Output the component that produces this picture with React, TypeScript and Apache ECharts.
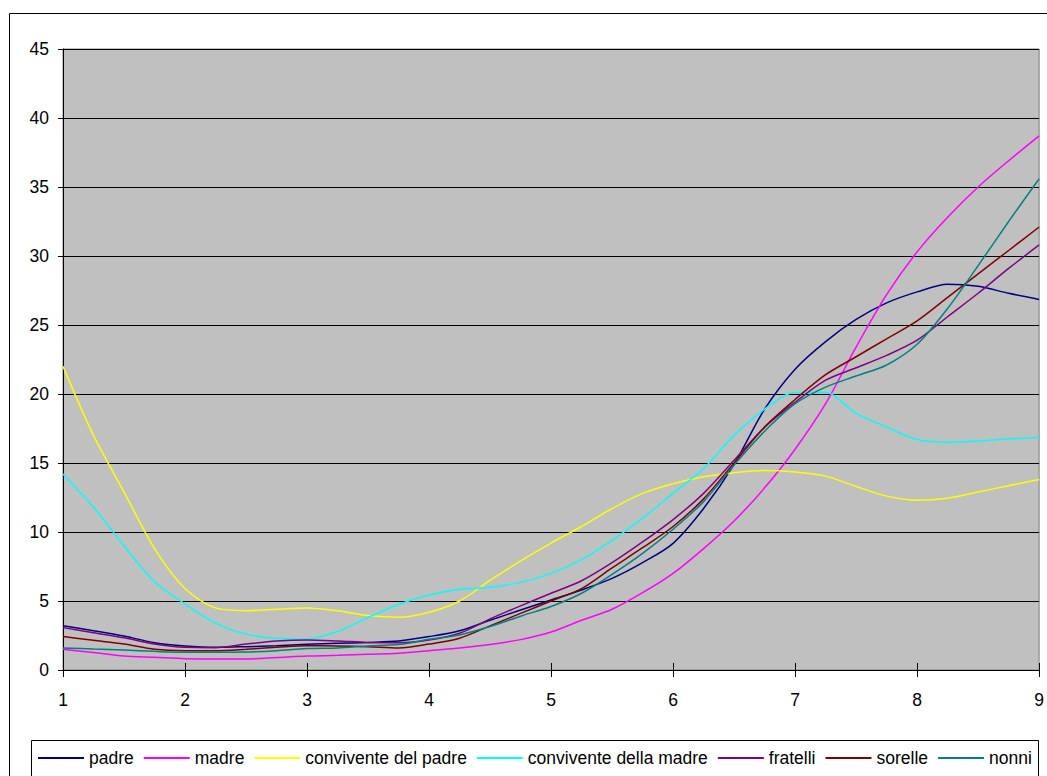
import React, { useEffect, useRef } from "react";
import * as echarts from "echarts";

const xValues = [1, 1.25, 1.5, 1.75, 2, 2.25, 2.5, 2.75, 3, 3.25, 3.5, 3.75, 4, 4.25, 4.5, 4.75, 5, 5.25, 5.5, 5.75, 6, 6.25, 6.5, 6.75, 7, 7.25, 7.5, 7.75, 8, 8.25, 8.5, 8.75, 9];

const padre = [3.21, 2.85, 2.46, 1.98, 1.74, 1.64, 1.69, 1.76, 1.86, 1.93, 2.0, 2.1, 2.42, 2.85, 3.6, 4.35, 5.07, 5.8, 6.64, 7.78, 9.18, 11.7, 14.9, 18.9, 21.8, 23.8, 25.4, 26.6, 27.4, 27.95, 27.8, 27.3, 26.85];
const madre = [1.5, 1.26, 1.01, 0.92, 0.82, 0.8, 0.8, 0.9, 1.01, 1.06, 1.14, 1.22, 1.4, 1.6, 1.85, 2.2, 2.75, 3.6, 4.4, 5.6, 7.0, 8.8, 10.8, 13.2, 16.0, 19.3, 23.4, 27.2, 30.3, 32.8, 35.0, 36.9, 38.7];
const conviventePadre = [22.0, 17.0, 12.9, 8.8, 5.9, 4.5, 4.3, 4.4, 4.5, 4.3, 3.95, 3.82, 4.18, 5.0, 6.5, 7.9, 9.2, 10.4, 11.7, 12.8, 13.5, 14.0, 14.3, 14.45, 14.35, 14.05, 13.3, 12.6, 12.3, 12.45, 12.9, 13.35, 13.8];
const conviventeMadre = [14.2, 11.8, 9.0, 6.4, 4.78, 3.4, 2.6, 2.3, 2.25, 2.8, 3.8, 4.75, 5.43, 5.85, 6.0, 6.35, 7.0, 8.0, 9.4, 11.0, 12.8, 14.6, 17.0, 18.9, 20.1, 20.1, 18.6, 17.6, 16.7, 16.5, 16.6, 16.75, 16.85];
const fratelli = [3.07, 2.7, 2.34, 1.88, 1.64, 1.62, 1.88, 2.1, 2.17, 2.1, 2.0, 1.98, 2.17, 2.66, 3.7, 4.65, 5.56, 6.47, 7.78, 9.28, 10.9, 12.8, 15.2, 17.6, 19.4, 21.0, 21.9, 22.8, 23.9, 25.6, 27.3, 29.1, 30.8];
const sorelle = [2.42, 2.15, 1.88, 1.5, 1.4, 1.4, 1.5, 1.64, 1.76, 1.74, 1.69, 1.6, 1.88, 2.3, 3.2, 4.1, 5.0, 5.9, 7.4, 8.86, 10.4, 12.4, 15.0, 17.6, 19.6, 21.4, 22.7, 24.0, 25.3, 27.0, 28.7, 30.4, 32.1];
const nonni = [1.6, 1.52, 1.45, 1.35, 1.28, 1.28, 1.3, 1.4, 1.55, 1.6, 1.74, 1.84, 2.22, 2.54, 3.15, 3.9, 4.6, 5.56, 6.93, 8.45, 10.2, 12.2, 14.86, 17.3, 19.3, 20.5, 21.3, 22.1, 23.6, 26.2, 29.3, 32.5, 35.6];

const seriesNames = ["padre", "madre", "convivente del padre", "convivente della madre", "fratelli", "sorelle", "nonni"];
const seriesValues = [padre, madre, conviventePadre, conviventeMadre, fratelli, sorelle, nonni];
const seriesColors = ["#000080", "#FF00FF", "#FFFF00", "#00FFFF", "#800080", "#800000", "#008080"];

const FONT = "'Liberation Sans', Arial, sans-serif";
const FS = 17.5;

export default function App() {
  const ref = useRef<HTMLDivElement>(null);
  useEffect(() => {
    document.body.style.margin = "0";
    const chart = echarts.init(ref.current!, null, { renderer: "svg" });
    const option = {
      animation: false,
      backgroundColor: "#ffffff",
      textStyle: { fontFamily: FONT },
      grid: {
        left: 63,
        right: 6,
        top: 49,
        bottom: 106,
        show: true,
        backgroundColor: "#C0C0C0",
        borderColor: "#808080",
        borderWidth: 1,
      },
      legend: {
        data: seriesNames,
        left: 38,
        top: 748,
        padding: 0,
        icon: "rect",
        itemWidth: 46,
        itemHeight: 2,
        itemGap: 10,
        textStyle: { fontSize: FS, color: "#000", fontFamily: FONT, lineHeight: 20 },
        selectedMode: false,
      },
      xAxis: [
        {
          type: "value",
          min: 1,
          max: 9,
          interval: 1,
          splitLine: { show: false },
          axisLine: { show: true, lineStyle: { color: "#000", width: 1 } },
          axisTick: { show: true, length: 7, lineStyle: { color: "#000" } },
          axisLabel: { fontSize: FS, color: "#000", margin: 21, fontFamily: FONT },
        },
        {
          type: "value",
          min: 1,
          max: 9,
          interval: 1,
          position: "bottom",
          splitLine: { show: false },
          axisLine: { show: false },
          axisTick: { show: true, inside: true, length: 7, lineStyle: { color: "#000" } },
          axisLabel: { show: false },
        },
      ],
      yAxis: {
        type: "value",
        min: 0,
        max: 45,
        interval: 5,
        splitLine: { show: true, lineStyle: { color: "#000", width: 1 } },
        axisLine: { show: true, lineStyle: { color: "#000", width: 1 } },
        axisTick: { show: true, length: 5, lineStyle: { color: "#000" } },
        axisLabel: { fontSize: FS, color: "#000", margin: 14, fontFamily: FONT },
      },
      series: seriesNames.map((name, i) => ({
        name,
        type: "line",
        xAxisIndex: 0,
        data: xValues.map((x, j) => [x, seriesValues[i][j]]),
        smooth: 0.3,
        showSymbol: false,
        symbol: "none",
        lineStyle: { color: seriesColors[i], width: 1.5 },
        itemStyle: { color: seriesColors[i] },
      })),
      graphic: [
        {
          type: "rect",
          shape: { x: 9.5, y: 13.5, width: 1100, height: 900 },
          style: { fill: "none", stroke: "#000", lineWidth: 1 },
          silent: true,
        },
        {
          type: "rect",
          shape: { x: 31.5, y: 740.5, width: 1007, height: 100 },
          style: { fill: "none", stroke: "#000", lineWidth: 1 },
          silent: true,
        },
      ],
    };
    chart.setOption(option as any);
    return () => chart.dispose();
  }, []);
  return <div ref={ref} style={{ position: "fixed", left: 0, top: 0, width: 1047, height: 776 }} />;
}
